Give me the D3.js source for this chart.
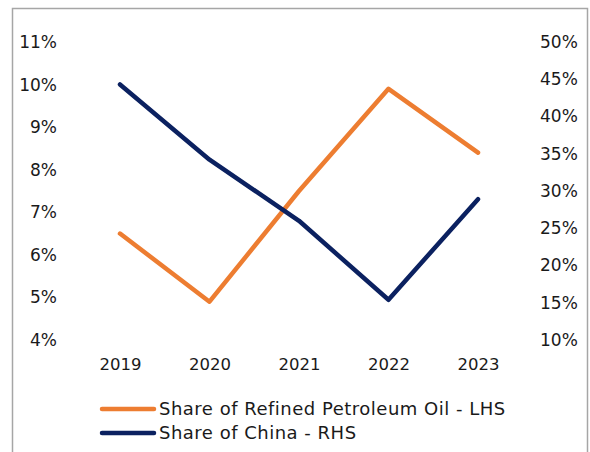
<!DOCTYPE html>
<html>
<head>
<meta charset="utf-8">
<script src="https://cdn.jsdelivr.net/npm/d3@7"></script>
<style>
  html, body { margin: 0; padding: 0; background: #fff; }
  svg { display: block; }
  text { font-family: "DejaVu Sans", "Open Sans", sans-serif; fill: #1a1a1a; }
</style>
</head>
<body>
<svg id="chart" width="590" height="452"></svg>
<script>
// Years on the category axis
const years = ["2019", "2020", "2021", "2022", "2023"];
// Share of refined petroleum oil (%, left axis)
const petroleumShare = [6.5, 4.9, 7.5, 9.9, 8.4];
// Share of China (%, right axis)
const chinaShare = [44.3, 34.2, 26.0, 15.4, 28.9];
// Axis ticks
const leftTicks = [4, 5, 6, 7, 8, 9, 10, 11];
const rightTicks = [10, 15, 20, 25, 30, 35, 40, 45, 50];
// Legend entries
const seriesNames = ["Share of Refined Petroleum Oil - LHS", "Share of China - RHS"];

const ORANGE = "#ED7D31";
const NAVY = "#0B2160";

const svg = d3.select("#chart");

// Outer frame
svg.append("rect")
  .attr("x", 12.5).attr("y", 8.5)
  .attr("width", 575).attr("height", 460)
  .attr("fill", "none").attr("stroke", "#a6a6a6").attr("stroke-width", 1.5);

const x = d3.scalePoint().domain(years).range([120, 478]);
const yLeft = d3.scaleLinear().domain([4, 11]).range([340, 42]);
const yRight = d3.scaleLinear().domain([10, 50]).range([340, 42]);

function styleAxis(size) {
  return g => {
    g.select(".domain").remove();
    g.attr("font-family", null).attr("font-size", null);
    g.selectAll("text").attr("font-size", size).attr("fill", "#1a1a1a");
  };
}

// Left axis labels
svg.append("g").attr("transform", "translate(57,0)")
  .call(d3.axisLeft(yLeft).tickValues(leftTicks)
    .tickFormat(d => d + "%").tickSize(0).tickPadding(0))
  .call(styleAxis(17));

// Right axis labels
svg.append("g").attr("transform", "translate(540,0)")
  .call(d3.axisRight(yRight).tickValues(rightTicks)
    .tickFormat(d => d + "%").tickSize(0).tickPadding(0))
  .call(styleAxis(17));

// Category labels
svg.append("g").attr("transform", "translate(0,358)")
  .call(d3.axisBottom(x).tickSize(0).tickPadding(0))
  .call(styleAxis(16.5))
  .selectAll("text").attr("dy", "0.71em");

// Series lines
const lineLeft = d3.line().x((d, i) => x(years[i])).y(d => yLeft(d));
const lineRight = d3.line().x((d, i) => x(years[i])).y(d => yRight(d));

svg.append("path").datum(petroleumShare)
  .attr("d", lineLeft).attr("fill", "none")
  .attr("stroke", ORANGE).attr("stroke-width", 4.5)
  .attr("stroke-linecap", "round").attr("stroke-linejoin", "round");

svg.append("path").datum(chinaShare)
  .attr("d", lineRight).attr("fill", "none")
  .attr("stroke", NAVY).attr("stroke-width", 4.5)
  .attr("stroke-linecap", "round").attr("stroke-linejoin", "round");

// Legend
const legendColors = [ORANGE, NAVY];
const legend = svg.append("g");
seriesNames.forEach((name, i) => {
  const yy = 409 + i * 24;
  legend.append("line")
    .attr("x1", 102).attr("x2", 154).attr("y1", yy).attr("y2", yy)
    .attr("stroke", legendColors[i]).attr("stroke-width", 4.5)
    .attr("stroke-linecap", "round");
  legend.append("text")
    .attr("x", 159).attr("y", yy).attr("dy", "0.36em")
    .attr("font-size", 18).attr("letter-spacing", 0.5).text(name);
});
</script>
</body>
</html>
